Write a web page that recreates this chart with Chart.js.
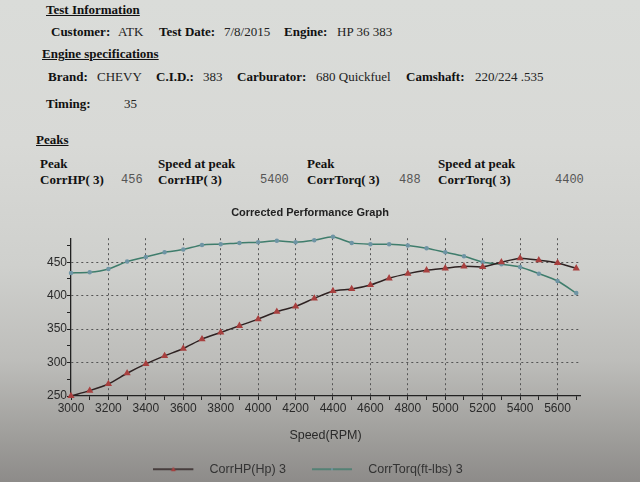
<!DOCTYPE html>
<html>
<head>
<meta charset="utf-8">
<script src="https://cdn.jsdelivr.net/npm/chart.js@4/dist/chart.umd.min.js"></script>
<style>
  html, body { margin: 0; padding: 0; }
  body {
    width: 640px; height: 482px; overflow: hidden; position: relative;
    background: linear-gradient(to bottom, #dadcd9 0%, #d8d9d6 30%, #cfd0cd 55%, #bdbdba 75%, #a09f9c 90%, #8d8b89 100%);
    font-family: "Liberation Serif", serif;
  }
  .t { position: absolute; font-size: 13px; line-height: 14px; color: #222; white-space: nowrap; }
  .b { font-weight: bold; color: #111; }
  .u { text-decoration: underline; }
  .m { font-family: "Liberation Mono", monospace; font-size: 12px; color: #555; }
  #wrap { position: absolute; left: 0; top: 195px; width: 640px; height: 301px; }
</style>
</head>
<body>
<div class="t b u" style="left:46px;top:3px;">Test Information</div>
<div class="t b" style="left:51px;top:25px;">Customer:</div>
<div class="t" style="left:118px;top:25px;">ATK</div>
<div class="t b" style="left:159px;top:25px;">Test Date:</div>
<div class="t" style="left:224px;top:25px;">7/8/2015</div>
<div class="t b" style="left:284px;top:25px;">Engine:</div>
<div class="t" style="left:337px;top:25px;">HP 36 383</div>

<div class="t b u" style="left:42px;top:47px;">Engine specifications</div>
<div class="t b" style="left:48px;top:70px;">Brand:</div>
<div class="t" style="left:97px;top:70px;">CHEVY</div>
<div class="t b" style="left:156px;top:70px;">C.I.D.:</div>
<div class="t" style="left:203px;top:70px;">383</div>
<div class="t b" style="left:237px;top:70px;">Carburator:</div>
<div class="t" style="left:316px;top:70px;">680 Quickfuel</div>
<div class="t b" style="left:406px;top:70px;">Camshaft:</div>
<div class="t" style="left:475px;top:70px;">220/224 .535</div>

<div class="t b" style="left:46px;top:97px;">Timing:</div>
<div class="t" style="left:124px;top:97px;">35</div>

<div class="t b u" style="left:36px;top:133px;">Peaks</div>
<div class="t b" style="left:40px;top:157px;">Peak</div>
<div class="t b" style="left:40px;top:173px;">CorrHP( 3)</div>
<div class="t m" style="left:121px;top:173px;">456</div>
<div class="t b" style="left:158px;top:157px;">Speed at peak</div>
<div class="t b" style="left:158px;top:173px;">CorrHP( 3)</div>
<div class="t m" style="left:260px;top:173px;">5400</div>
<div class="t b" style="left:307px;top:157px;">Peak</div>
<div class="t b" style="left:307px;top:173px;">CorrTorq( 3)</div>
<div class="t m" style="left:399px;top:173px;">488</div>
<div class="t b" style="left:438px;top:157px;">Speed at peak</div>
<div class="t b" style="left:438px;top:173px;">CorrTorq( 3)</div>
<div class="t m" style="left:555px;top:173px;">4400</div>

<div id="wrap"><canvas id="c" width="640" height="301"></canvas></div>

<script>
const rpm = [3000,3100,3200,3300,3400,3500,3600,3700,3800,3900,4000,4100,4200,4300,4400,4500,4600,4700,4800,4900,5000,5100,5200,5300,5400,5500,5600,5700];
const corrHP = [250,258,268,284,298,310,321,335,345,355,365,376,384,396,407,410,416,426,433,438,441,444,443,450,456,453,449,441];
const corrTorq = [434,435,440,451,458,465,469,476,477,479,480,482,480,483,488,479,477,477,475,471,465,459,450,447,443,433,422,404];
const xTickLabels = [3000,3200,3400,3600,3800,4000,4200,4400,4600,4800,5000,5200,5400,5600];
const yTickLabels = [250,300,350,400,450];
const seriesNames = ['CorrHP(Hp) 3', 'CorrTorq(ft-lbs) 3'];

const hpLine = '#2e2222', hpMark = '#a8403f';
const tqLine = '#3f7d6c', tqMark = '#6f95a5';

function legendImg(line, mark, tri) {
  const c = document.createElement('canvas');
  c.width = 50; c.height = 8;
  const g = c.getContext('2d');
  g.strokeStyle = line; g.lineWidth = 1.5;
  g.beginPath(); g.moveTo(0, 4); g.lineTo(40, 4); g.stroke();
  g.fillStyle = mark;
  g.beginPath();
  if (tri) { g.moveTo(20, 1.5); g.lineTo(22.5, 6); g.lineTo(17.5, 6); g.closePath(); }
  else { g.arc(20, 4, 1.1, 0, Math.PI * 2); }
  g.fill();
  return c;
}

const shiftPlugin = {
  id: 'shiftBoxes',
  afterLayout(chart) {
    const lg = chart.legend;
    if (lg) { lg.left += 18; lg.right += 18; lg.top -= 6.5; lg.bottom -= 6.5; }
    const tb = chart.titleBlock;
    if (tb) { tb.left += 20; tb.right += 20; }
  }
};

const pts = (ys) => rpm.map((x, i) => ({x, y: ys[i]}));

new Chart(document.getElementById('c'), {
  type: 'line',
  plugins: [shiftPlugin],
  data: {
    datasets: [
      { label: seriesNames[0], data: pts(corrHP), borderColor: hpLine, borderWidth: 1.5,
        pointStyle: 'triangle', pointRadius: 2.7, pointBackgroundColor: hpMark, pointBorderColor: hpMark,
        tension: 0.2, clip: 6, _img: legendImg(hpLine, hpMark, true) },
      { label: seriesNames[1], data: pts(corrTorq), borderColor: tqLine, borderWidth: 1.5,
        pointStyle: 'circle', pointRadius: 1.5, pointBackgroundColor: tqMark, pointBorderColor: tqMark,
        tension: 0.2, clip: 6, _img: legendImg(tqLine, tqMark, false) }
    ]
  },
  options: {
    responsive: false,
    animation: false,
    layout: { padding: { left: 0, right: 60, top: 0, bottom: 4 } },
    plugins: {
      title: { display: true, text: 'Corrected Performance Graph', color: '#222',
        font: { family: 'Liberation Sans', size: 11, weight: 'bold' }, padding: { top: 11, bottom: 19 } },
      legend: { position: 'bottom',
        labels: { usePointStyle: true, pointStyleWidth: 50, padding: 26, color: '#333',
          font: { family: 'Liberation Sans', size: 12.5 },
          generateLabels: (chart) => chart.data.datasets.map((d, i) => ({
            text: d.label, pointStyle: d._img, datasetIndex: i, fontColor: '#333', lineWidth: 0,
            strokeStyle: 'transparent', fillStyle: 'transparent'
          })) } },
      tooltip: { enabled: false }
    },
    scales: {
      x: { type: 'linear', min: 3000, max: 5720,
        afterBuildTicks: (s) => { const t = []; for (let v = 3000; v <= 5700; v += 100) t.push({value: v}); s.ticks = t; },
        afterFit: (s) => { s.height = 47.5; },
        ticks: { color: '#2a2a2a', font: { family: 'Liberation Sans', size: 12 }, padding: 1, maxRotation: 0, autoSkip: false,
          callback: (v) => xTickLabels.includes(v) ? String(v) : '' },
        grid: { color: (c) => (c.tick && xTickLabels.includes(c.tick.value) && c.tick.value !== 3000) ? '#555' : 'rgba(0,0,0,0)',
          tickColor: '#222', tickLength: 4, lineWidth: 1 },
        border: { display: true, color: '#222', width: 1.3, dash: [2, 3] },
        title: { display: true, text: 'Speed(RPM)', color: '#2a2a2a', font: { family: 'Liberation Sans', size: 12.5 }, padding: { top: 0, bottom: 0 } }
      },
      y: { type: 'linear', min: 250, max: 486,
        afterBuildTicks: (s) => { const t = []; for (let v = 250; v <= 475; v += 25) t.push({value: v}); s.ticks = t; },
        afterFit: (s) => { s.width = 71; },
        ticks: { color: '#2a2a2a', font: { family: 'Liberation Sans', size: 12 }, padding: 0, autoSkip: false,
          callback: (v) => yTickLabels.includes(v) ? String(v) : '' },
        grid: { color: (c) => (c.tick && yTickLabels.includes(c.tick.value) && c.tick.value !== 250) ? '#555' : 'rgba(0,0,0,0)',
          tickColor: '#222', tickLength: 4, lineWidth: 1 },
        border: { display: true, color: '#222', width: 1.3, dash: [2, 3] }
      }
    }
  }
});
</script>
</body>
</html>
